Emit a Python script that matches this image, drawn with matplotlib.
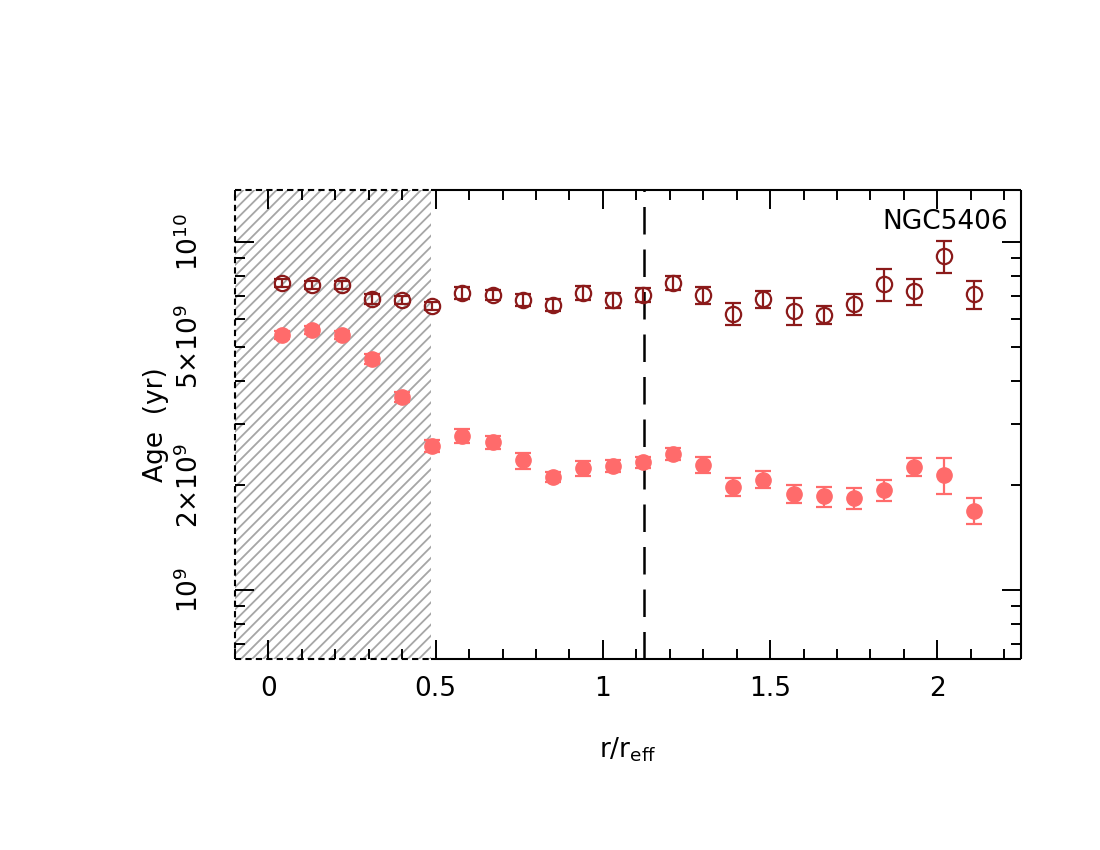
import numpy as np
import matplotlib
matplotlib.use('Agg')
import matplotlib.pyplot as plt
from matplotlib.ticker import LogLocator, FuncFormatter, MultipleLocator
from matplotlib.patches import Rectangle

plt.rcParams['font.family'] = ['DejaVu Sans']
plt.rcParams['mathtext.fontset'] = 'dejavusans'
plt.rcParams['hatch.linewidth'] = 1.3

# radial bins (r / r_eff)
r = [0.04, 0.13, 0.22, 0.31, 0.40, 0.49, 0.58, 0.67, 0.76, 0.85, 0.94, 1.03,
     1.12, 1.21, 1.30, 1.39, 1.48, 1.57, 1.66, 1.75, 1.84, 1.93, 2.02, 2.11]

# open symbols (dark red) and filled symbols (salmon), age in yr
age_open = [7.62e9, 7.52e9, 7.52e9, 6.85e9, 6.81e9, 6.54e9, 7.13e9, 7.04e9,
            6.81e9, 6.59e9, 7.13e9, 6.81e9, 7.04e9, 7.62e9, 7.04e9, 6.21e9,
            6.85e9, 6.34e9, 6.17e9, 6.64e9, 7.57e9, 7.23e9, 9.12e9, 7.09e9]
err_open = [2.0e8, 2.0e8, 2.0e8, 2.3e8, 1.8e8, 1.7e8, 2.8e8, 2.3e8,
            2.7e8, 2.6e8, 3.3e8, 3.4e8, 3.3e8, 3.5e8, 3.9e8, 4.5e8,
            3.9e8, 5.5e8, 3.7e8, 4.6e8, 8.0e8, 6.2e8, 9.5e8, 6.6e8]

age_fill = [5.41e9, 5.58e9, 5.41e9, 4.61e9, 3.59e9, 2.60e9, 2.77e9, 2.66e9,
            2.36e9, 2.11e9, 2.24e9, 2.27e9, 2.33e9, 2.46e9, 2.29e9, 1.98e9,
            2.08e9, 1.89e9, 1.86e9, 1.84e9, 1.94e9, 2.26e9, 2.14e9, 1.69e9]
err_fill = [1.4e8, 1.5e8, 1.4e8, 1.5e8, 1.2e8, 1.0e8, 1.3e8, 1.1e8,
            1.25e8, 0.7e8, 1.1e8, 0.9e8, 0.9e8, 1.0e8, 1.2e8, 1.15e8,
            1.15e8, 1.1e8, 1.2e8, 1.3e8, 1.3e8, 1.35e8, 2.5e8, 1.45e8]

r_excluded = 0.485   # edge of hatched inner region
r_eff_line = 1.124

xmin, xmax = -0.1, 2.25
ymin, ymax = 6.35e8, 1.41e10

fig = plt.figure(figsize=(11, 8.5), dpi=100)
ax = fig.add_axes([0.2136, 0.2247, 0.7146, 0.5518])
ax.set_yscale('log')
ax.set_xlim(xmin, xmax)
ax.set_ylim(ymin, ymax)

# hatched inner region
ax.add_patch(Rectangle((xmin, ymin), r_excluded - xmin, ymax - ymin,
                       facecolor='none', edgecolor='#a6a6a6', hatch='///', lw=0, zorder=1))

# frame: dashed where it borders the hatched region
for s in ax.spines.values():
    s.set_visible(False)
fr = dict(color='black', lw=1.5, clip_on=False, zorder=5, solid_capstyle='butt')
dash = (0, (3, 2))
ax.plot([xmin, r_excluded], [ymin, ymin], ls=dash, **fr)
ax.plot([xmin, r_excluded], [ymax, ymax], ls=dash, **fr)
ax.plot([xmin, xmin], [ymin, ymax], ls=dash, **fr)
ax.plot([r_excluded, xmax], [ymin, ymin], **fr)
ax.plot([r_excluded, xmax], [ymax, ymax], **fr)
ax.plot([xmax, xmax], [ymin, ymax], **fr)

ax.axvline(r_eff_line, color='black', ls=(0, (11, 6)), lw=1.8, zorder=2)

ax.errorbar(r, age_open, yerr=err_open, fmt='o', ms=11, mfc='none', mec='#8b1a1a',
            mew=1.6, ecolor='#8b1a1a', elinewidth=1.6, capsize=6, capthick=1.6, zorder=3)
ax.errorbar(r, age_fill, yerr=err_fill, fmt='o', ms=11, mfc='#ff6b6b', mec='#ff6b6b',
            ecolor='#ff6b6b', elinewidth=1.6, capsize=6, capthick=1.6, zorder=3)

ax.text(0.983, 0.96, 'NGC5406', transform=ax.transAxes, ha='right', va='top', fontsize=19)

# ticks
ax.xaxis.set_major_locator(MultipleLocator(0.5))
ax.xaxis.set_minor_locator(MultipleLocator(0.1))
ax.xaxis.set_major_formatter(FuncFormatter(lambda v, p: '%g' % v))
ax.yaxis.set_major_locator(LogLocator(base=10, subs=(1.0,)))
ax.yaxis.set_minor_locator(LogLocator(base=10, subs=np.arange(2, 10)))


def major_fmt(v, p):
    return r'$10^{%d}$' % int(round(np.log10(v)))


def minor_fmt(v, p):
    e = int(np.floor(np.log10(v) + 1e-9))
    m = int(round(v / 10**e))
    if m in (2, 5):
        return r'$%d{\times}10^{%d}$' % (m, e)
    return ''


ax.yaxis.set_major_formatter(FuncFormatter(major_fmt))
ax.yaxis.set_minor_formatter(FuncFormatter(minor_fmt))

ax.tick_params(which='both', direction='in', top=True, right=True, width=1.4)
ax.tick_params(which='major', length=14)
ax.tick_params(which='minor', length=7)
ax.tick_params(axis='x', which='major', labelsize=19, pad=12)
ax.tick_params(axis='y', which='both', labelsize=19, pad=22)
for lab in ax.get_yticklabels(which='both'):
    lab.set_rotation(90)
    lab.set_va('center')

ax.set_xlabel(r'r/r$_{\rm eff}$', fontsize=19, labelpad=24)
ax.set_ylabel('Age  (yr)', fontsize=19, va='center')
ax.yaxis.set_label_coords(-0.1, 0.5)

fig.savefig('out.png', dpi=100)
